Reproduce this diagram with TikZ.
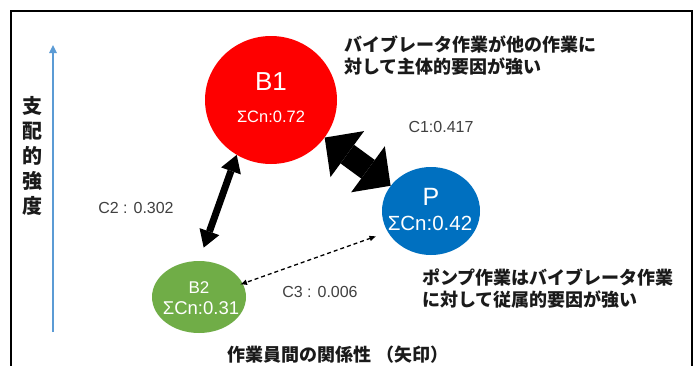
\documentclass[tikz,border=0pt]{standalone}
\usepackage{fontspec}
\setmainfont{Liberation Sans}
\newfontfamily\jp{Noto Sans CJK JP}
\usetikzlibrary{arrows.meta,shapes.geometric}
\definecolor{bred}{RGB}{254,0,0}
\definecolor{pblue}{RGB}{0,112,192}
\definecolor{bgreen}{RGB}{112,173,71}
\definecolor{axblue}{RGB}{91,155,213}
\definecolor{lblgray}{RGB}{64,64,64}
\definecolor{jblack}{RGB}{26,26,26}
\begin{document}
\begin{tikzpicture}[x=1pt,y=-1pt,
  blob/.style={ellipse, inner sep=0pt, draw=none},
  wtext/.style={text=white, inner sep=0pt},
  clabel/.style={text=lblgray, inner sep=0pt, font=\fontsize{16}{18}\selectfont},
  jtext/.style={text=jblack, inner sep=0pt, align=left, font=\jp\bfseries\fontsize{18}{22}\selectfont},
  fatarrow/.style={line width=23pt,
    {Triangle[width=57pt,length=28pt,line width=0pt]}-{Triangle[width=57pt,length=28pt,line width=0pt]}},
  midarrow/.style={line width=7pt,
    {Triangle[width=21pt,length=17pt,line width=0pt]}-{Triangle[width=21pt,length=17pt,line width=0pt]}},
  dasharrow/.style={line width=1.3pt, dash pattern=on 4pt off 3pt,
    {Latex[length=7pt,width=6pt]}-{Latex[length=7pt,width=6pt]}}
]
\useasboundingbox (0,0) rectangle (699,365);
\fill[white] (0,0) rectangle (699,365);
% frame
\coordinate (fbl) at (11,380);
\coordinate (ftl) at (11,11);
\coordinate (ftr) at (692,11);
\coordinate (fbr) at (692,380);
\draw[line width=2pt] (fbl) -- (ftl) -- (ftr) -- (fbr);
% axis
\coordinate (axbot) at (53,332);
\coordinate (axtop) at (53,45);
\draw[axblue, line width=2.5pt, -{Triangle[width=8pt,length=8pt,line width=0pt]}] (axbot) -- (axtop);
\node[jtext, align=center, font=\jp\bfseries\fontsize{20}{25}\selectfont] (ylab) at (33,156) {支\\配\\的\\強\\度};
% nodes
\node[blob, fill=bred, minimum width=132pt, minimum height=128pt] (B1) at (271,100) {};
\node[blob, fill=pblue, minimum width=98pt, minimum height=88pt] (P) at (431,211) {};
\node[blob, fill=bgreen, minimum width=94pt, minimum height=72pt] (B2) at (199,297) {};
\node[wtext, font=\fontsize{26}{28}\selectfont] (B1name) at (271,82) {B1};
\node[wtext, font=\fontsize{16.5}{18}\selectfont] (B1val) at (271,117) {ΣCn:0.72};
\node[wtext, font=\fontsize{25}{27}\selectfont] (Pname) at (431,197) {P};
\node[wtext, font=\fontsize{20.5}{22}\selectfont] (Pval) at (430,223) {ΣCn:0.42};
\node[wtext, font=\fontsize{17}{19}\selectfont] (B2name) at (199,288) {B2};
\node[wtext, font=\fontsize{18.5}{20}\selectfont] (B2val) at (201,308) {ΣCn:0.31};
% connectors
\draw[fatarrow] (B1.-35) -- (P.148);
\draw[midarrow, shorten >=14pt] (B1.238) -- (B2.north);
\draw[dasharrow, shorten <=12pt, shorten >=-3pt] (P.206) -- (B2.17);
% labels
\node[clabel] (c1) at (441,127) {C1:0.417};
\node[clabel] (c2) at (136,208) {C2 : 0.302};
\node[clabel] (c3) at (320,292) {C3 : 0.006};
% notes
\node[jtext, anchor=west] (note1) at (344,56) {バイブレータ作業が他の作業に\\対して主体的要因が強い};
\node[jtext, anchor=west] (note2) at (422,289) {ポンプ作業はバイブレータ作業\\に対して従属的要因が強い};
\node[jtext] (cap) at (338,355) {作業員間の関係性 （矢印）};
\end{tikzpicture}
\end{document}
